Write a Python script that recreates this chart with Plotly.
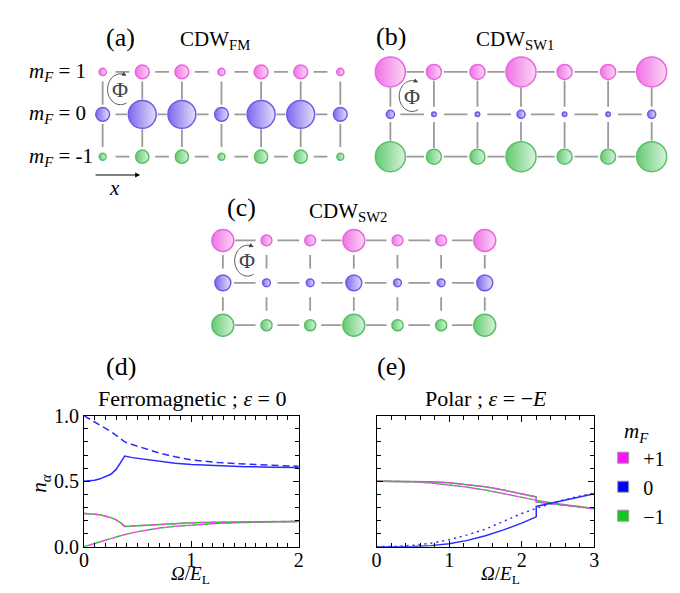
import math
import plotly.graph_objects as go

W, H = 680, 593
SERIF = "Liberation Serif, Times New Roman, DejaVu Serif, serif"

# ---------------- data ----------------
sites = [0, 1, 2, 3, 4, 5, 6]
mf_levels = [1, 0, -1]
mf_row_labels = ["1", "0", "-1"]

# relative site occupations (drawn as ball diameters)
a_occ_p1 = [0.24, 0.46, 0.46, 0.24, 0.46, 0.46, 0.24]
a_occ_0 = [0.46, 0.93, 0.93, 0.46, 0.93, 0.93, 0.46]
a_occ_m1 = [0.23, 0.44, 0.44, 0.23, 0.44, 0.44, 0.23]
b_occ_p1 = [1.0, 0.5, 0.5, 1.0, 0.5, 0.5, 1.0]
b_occ_0 = [0.27, 0.15, 0.15, 0.27, 0.15, 0.15, 0.27]
b_occ_m1 = [1.0, 0.5, 0.5, 1.0, 0.5, 0.5, 1.0]
c_occ_p1 = [0.73, 0.36, 0.36, 0.73, 0.36, 0.36, 0.73]
c_occ_0 = [0.53, 0.26, 0.26, 0.53, 0.26, 0.26, 0.53]
c_occ_m1 = [0.73, 0.37, 0.37, 0.73, 0.37, 0.37, 0.73]

# (d) Ferromagnetic ; eps = 0
d_omega = [0, 0.05, 0.1, 0.15, 0.2, 0.25, 0.3, 0.35, 0.38, 0.45, 0.55, 0.7, 0.85, 1.0, 1.25, 1.5, 1.75, 2.0]
d_n0_solid = [0.500, 0.502, 0.508, 0.518, 0.533, 0.553, 0.590, 0.650, 0.692, 0.680, 0.668, 0.650, 0.637, 0.627, 0.617, 0.611, 0.607, 0.604]
d_n0_dash = [1.0, 0.976, 0.953, 0.932, 0.910, 0.880, 0.850, 0.820, 0.800, 0.780, 0.752, 0.715, 0.686, 0.663, 0.642, 0.630, 0.621, 0.614]
d_n1_solid = [0.253, 0.252, 0.248, 0.243, 0.235, 0.222, 0.205, 0.178, 0.155, 0.158, 0.163, 0.170, 0.177, 0.182, 0.187, 0.190, 0.192, 0.193]
d_n1_dash = [0.0, 0.013, 0.027, 0.040, 0.052, 0.063, 0.074, 0.085, 0.092, 0.106, 0.122, 0.142, 0.156, 0.166, 0.178, 0.185, 0.190, 0.193]

# (e) Polar ; eps = -E
e_omega_solid = [0, 0.25, 0.5, 0.75, 1.0, 1.25, 1.5, 1.75, 2.0, 2.2, 2.2, 2.4, 2.6, 2.8, 3.0]
e_n0_solid = [0.0, 0.0, 0.002, 0.008, 0.022, 0.048, 0.083, 0.128, 0.180, 0.228, 0.307, 0.332, 0.356, 0.380, 0.404]
e_n1_solid = [0.5, 0.5, 0.499, 0.495, 0.488, 0.475, 0.457, 0.432, 0.405, 0.380, 0.342, 0.327, 0.314, 0.302, 0.290]
e_omega_alt = [0, 0.25, 0.5, 0.75, 1.0, 1.25, 1.5, 1.75, 2.0, 2.25, 2.5, 2.75, 3.0]
e_n0_dot = [0.0, 0.002, 0.010, 0.027, 0.053, 0.090, 0.134, 0.195, 0.253, 0.302, 0.346, 0.380, 0.410]
e_n1_dash = [0.5, 0.499, 0.495, 0.487, 0.473, 0.454, 0.432, 0.403, 0.375, 0.349, 0.327, 0.308, 0.292]

legend_labels = ["+1", "0", "\u22121"]
d_xticks = [0, 1, 2]
d_yticks = [0, 0.5, 1.0]
d_yticktext = ["0.0", "0.5", "1.0"]
e_xticks = [0, 1, 2, 3]

# ---------------- style ----------------
PINK, PINK_EDGE, PINK_LIGHT = "#ec38dc", "#e026d2", "#f8c6f2"
VIO, VIO_EDGE, VIO_LIGHT = "#4628e6", "#3414d8", "#d8d0fa"
GRN, GRN_EDGE, GRN_LIGHT = "#22b535", "#15a628", "#c8eecd"
BOND = "#9a9a9a"
L_BLUE, L_PINK, L_GREEN = "#2b2bff", "#ff3cff", "#2fbf2f"
SCALE = 30.0  # px per unit occupation

GEO = {
    "a": dict(x0=91, dx=40.2, y0=55, dy=44, Lh=14, Lv=24),
    "b": dict(x0=383, dx=44.2, y0=55, dy=44, Lh=24, Lv=28),
    "c": dict(x0=213, dx=44.3, y0=230, dy=44, Lh=22, Lv=14),
}


def PX(x):
    return x / W


def PY(y):
    return 1 - y / H


fig = go.Figure()
layout_axes = {}


def add_lattice(n, key, occs):
    g = GEO[key]
    sfx = "" if n == 1 else str(n)
    layout_axes["xaxis" + sfx] = dict(
        domain=[PX(g["x0"] - 0.5 * g["dx"]), PX(g["x0"] + 6.5 * g["dx"])],
        range=[-0.5, 6.5], visible=False, fixedrange=True, anchor="y" + sfx)
    layout_axes["yaxis" + sfx] = dict(
        domain=[PY(g["y0"] + 2.5 * g["dy"]), PY(g["y0"] - 0.5 * g["dy"])],
        range=[-1.5, 1.5], visible=False, fixedrange=True, anchor="x" + sfx)
    rad = {mf: [SCALE * v / 2 for v in occ] for mf, occ in zip(mf_levels, occs)}
    gap = 1.5
    bx, by = [], []
    for mf in mf_levels:
        for i in sites[:-1]:
            half = g["Lh"] / 2
            s = max(-half, -g["dx"] / 2 + rad[mf][i] + gap)
            e = min(half, g["dx"] / 2 - rad[mf][i + 1] - gap)
            if e > s:
                bx += [i + 0.5 + s / g["dx"], i + 0.5 + e / g["dx"], None]
                by += [mf, mf, None]
    for up, lo in [(1, 0), (0, -1)]:
        for i in sites:
            half = g["Lv"] / 2
            mid = (up + lo) / 2
            top = min(half, g["dy"] / 2 - rad[up][i] - gap)
            bot = max(-half, -g["dy"] / 2 + rad[lo][i] + gap)
            if top > bot:
                bx += [i, i, None]
                by += [mid + bot / g["dy"], mid + top / g["dy"], None]
    fig.add_trace(go.Scatter(x=bx, y=by, mode="lines", xaxis="x" + sfx, yaxis="y" + sfx,
                             line=dict(color=BOND, width=1.8), showlegend=False,
                             hoverinfo="skip", cliponaxis=False))
    styles = [(PINK, PINK_EDGE, PINK_LIGHT), (VIO, VIO_EDGE, VIO_LIGHT), (GRN, GRN_EDGE, GRN_LIGHT)]
    for mf, occ, (c, ce, cl) in zip(mf_levels, occs, styles):
        fig.add_trace(go.Scatter(
            x=sites, y=[mf] * len(sites), mode="markers", xaxis="x" + sfx, yaxis="y" + sfx,
            marker=dict(size=occ, sizemode="diameter", sizeref=1 / SCALE, color=c,
                        gradient=dict(type="horizontal", color=cl),
                        line=dict(color=ce, width=1.5)),
            showlegend=False, hoverinfo="skip", cliponaxis=False))


add_lattice(1, "a", [a_occ_p1, a_occ_0, a_occ_m1])
add_lattice(2, "b", [b_occ_p1, b_occ_0, b_occ_m1])
add_lattice(3, "c", [c_occ_p1, c_occ_0, c_occ_m1])

# ---------------- line plots ----------------
LW = 1.5
# (d)
fig.add_trace(go.Scatter(x=d_omega, y=d_n1_dash, xaxis="x4", yaxis="y4", mode="lines",
                         line=dict(color=L_GREEN, width=LW, dash="6px,5px"), showlegend=False))
fig.add_trace(go.Scatter(x=d_omega, y=d_n1_dash, xaxis="x4", yaxis="y4", mode="lines",
                         line=dict(color=L_PINK, width=LW, dash="0px,6px,5px,0px"), showlegend=False))
fig.add_trace(go.Scatter(x=d_omega, y=d_n1_solid, xaxis="x4", yaxis="y4", mode="lines",
                         line=dict(color=L_GREEN, width=LW), showlegend=False))
fig.add_trace(go.Scatter(x=d_omega, y=d_n1_solid, xaxis="x4", yaxis="y4", mode="lines",
                         line=dict(color=L_PINK, width=LW, dash="5px,5px"), showlegend=False))
fig.add_trace(go.Scatter(x=d_omega, y=d_n0_dash, xaxis="x4", yaxis="y4", mode="lines",
                         line=dict(color=L_BLUE, width=LW, dash="7px,4px"), showlegend=False))
fig.add_trace(go.Scatter(x=d_omega, y=d_n0_solid, xaxis="x4", yaxis="y4", mode="lines",
                         line=dict(color=L_BLUE, width=LW), showlegend=False))
# (e)
fig.add_trace(go.Scatter(x=e_omega_alt, y=e_n1_dash, xaxis="x5", yaxis="y5", mode="lines",
                         line=dict(color=L_GREEN, width=LW, dash="5px,4px"), showlegend=False))
fig.add_trace(go.Scatter(x=e_omega_alt, y=e_n1_dash, xaxis="x5", yaxis="y5", mode="lines",
                         line=dict(color=L_PINK, width=LW, dash="0px,5px,4px,0px"), showlegend=False))
fig.add_trace(go.Scatter(x=e_omega_solid, y=e_n1_solid, xaxis="x5", yaxis="y5", mode="lines",
                         line=dict(color=L_GREEN, width=LW), showlegend=False))
fig.add_trace(go.Scatter(x=e_omega_solid, y=e_n1_solid, xaxis="x5", yaxis="y5", mode="lines",
                         line=dict(color=L_PINK, width=LW, dash="6px,3px"), showlegend=False))
fig.add_trace(go.Scatter(x=e_omega_alt, y=e_n0_dot, xaxis="x5", yaxis="y5", mode="lines",
                         line=dict(color=L_BLUE, width=LW, dash="2px,4px"), showlegend=False))
fig.add_trace(go.Scatter(x=e_omega_solid, y=e_n0_solid, xaxis="x5", yaxis="y5", mode="lines",
                         line=dict(color=L_BLUE, width=LW), showlegend=False))

# legend entries
for lab, col in zip(legend_labels, ["#ff10ff", "#0000ff", "#10c820"]):
    fig.add_trace(go.Scatter(x=[None], y=[None], xaxis="x5", yaxis="y5", mode="markers", name=lab,
                             marker=dict(symbol="square", size=11, color=col,
                                         line=dict(color="#999999", width=1))))

axis_common = dict(showline=True, linecolor="black", linewidth=1, mirror="ticks",
                   ticks="inside", ticklen=6, tickcolor="black", tickwidth=1,
                   showgrid=False, zeroline=False, fixedrange=True,
                   tickfont=dict(family=SERIF, size=20, color="black"))
PLOT_TOP, PLOT_BOT = 412, 548
layout_axes["xaxis4"] = dict(axis_common, domain=[PX(72), PX(290)], range=[0, 2], anchor="y4",
                             tickvals=d_xticks, ticklabelstandoff=-5,
                             minor=dict(dtick=0.1, ticks="inside", ticklen=4, tickcolor="black"))
layout_axes["yaxis4"] = dict(axis_common, domain=[PY(PLOT_BOT), PY(PLOT_TOP)], range=[0, 1], anchor="x4",
                             tickvals=d_yticks, ticktext=d_yticktext,
                             minor=dict(dtick=0.1, ticks="inside", ticklen=4, tickcolor="black"))
layout_axes["xaxis5"] = dict(axis_common, domain=[PX(369), PX(590)], range=[0, 3], anchor="y5",
                             tickvals=e_xticks, ticklabelstandoff=-5,
                             minor=dict(dtick=0.2, ticks="inside", ticklen=4, tickcolor="black"))
layout_axes["yaxis5"] = dict(axis_common, domain=[PY(PLOT_BOT), PY(PLOT_TOP)], range=[0, 1], anchor="x5",
                             tickvals=d_yticks, showticklabels=False,
                             minor=dict(dtick=0.1, ticks="inside", ticklen=4, tickcolor="black"))

# ---------------- annotations ----------------
ann = []


def txt(x, y, text, size=21, xanchor="center", yanchor="middle", color="black", angle=0):
    ann.append(dict(x=PX(x), y=PY(y), xref="paper", yref="paper", text=text, showarrow=False,
                    xanchor=xanchor, yanchor=yanchor, textangle=angle,
                    font=dict(family=SERIF, size=size, color=color)))


txt(109, 19, "(a)", 26)
txt(167, 22, "CDW<sub>FM</sub>", 21, xanchor="left")
txt(384, 18, "(b)", 26)
txt(468, 22, "CDW<sub>SW1</sub>", 21, xanchor="left")
txt(232, 196, "(c)", 26)
txt(298, 200, "CDW<sub>SW2</sub>", 21, xanchor="left")
for lab, yy in zip(mf_row_labels, [55, 99, 143]):
    txt(14, yy, "<i>m</i><sub><i>F</i></sub> = " + lab, 21, xanchor="left")
txt(103, 176, "<i>x</i>", 21)
ann.append(dict(x=PX(129), y=PY(162), xref="paper", yref="paper", ax=-46, ay=0, text="",
                showarrow=True, arrowhead=2, arrowsize=1, arrowwidth=1, arrowcolor="black"))

txt(110, 361, "(d)", 26)
txt(384, 361, "(e)", 26)
txt(182, 394, "Ferromagnetic ; <i>ε</i> = 0", 22)
txt(480, 394, "Polar ; <i>ε</i> = \u2212<i>E</i>", 22)
txt(180, 592, "<i>Ω</i>/<i>E</i><sub>L</sub>", 19, yanchor="bottom")
txt(495, 592, "<i>Ω</i>/<i>E</i><sub>L</sub>", 19, yanchor="bottom")
txt(28, 482, "<i>n</i><sub><i>α</i></sub>", 21, angle=-90)

# flux arcs with Phi
shapes = []
for cx, cy in [(109, 73), (405, 80), (238, 251)]:
    rx, ry = 13, 16
    pts = []
    t0, t1 = math.radians(-62), math.radians(-290)
    N = 40
    for k in range(N + 1):
        t = t0 + (t1 - t0) * k / N
        pts.append((cx + rx * math.cos(t), cy - ry * math.sin(t)))
    path = "M " + " L ".join(f"{PX(px):.5f},{PY(py):.5f}" for px, py in pts)
    shapes.append(dict(type="path", path=path, xref="paper", yref="paper",
                       line=dict(color="#555555", width=1)))
    tx, ty = pts[-1]
    t = t1
    vx, vy = rx * math.sin(t), ry * math.cos(t)
    nrm = math.hypot(vx, vy)
    ann.append(dict(x=PX(tx + 2 * vx / nrm), y=PY(ty + 2 * vy / nrm), xref="paper", yref="paper",
                    ax=-5 * vx / nrm, ay=-5 * vy / nrm, text="", showarrow=True,
                    arrowhead=2, arrowsize=0.9, arrowwidth=1, arrowcolor="#444444"))
    txt(cx, cy, "Φ", 22, color="#444444")

fig.update_layout(
    width=W, height=H, margin=dict(l=0, r=0, t=0, b=0),
    paper_bgcolor="white", plot_bgcolor="white",
    font=dict(family=SERIF),
    annotations=ann, shapes=shapes,
    legend=dict(x=PX(599), y=PY(407), xanchor="left", yanchor="top",
                title=dict(text="<i>m</i><sub><i>F</i></sub>", side="top center",
                           font=dict(family=SERIF, size=21)),
                font=dict(family=SERIF, size=20, color="black"),
                bgcolor="rgba(0,0,0,0)", itemsizing="trace", tracegroupgap=0),
    **layout_axes,
)

fig.write_html("out.html")
